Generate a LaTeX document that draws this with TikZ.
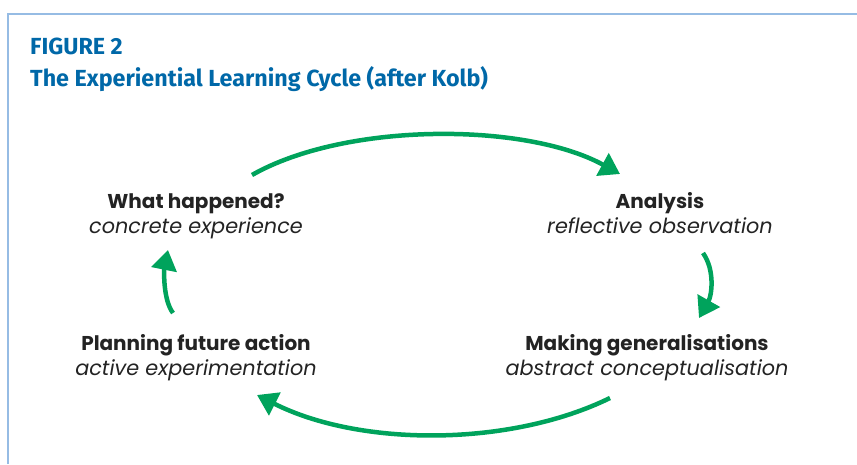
\documentclass[tikz,border=0pt]{standalone}
\usepackage{fontspec}
\setmainfont{Poppins}
\newfontfamily\titlefont{Fira Sans}
\usetikzlibrary{arrows.meta}
\definecolor{cyclegreen}{RGB}{0,163,92}
\definecolor{titleblue}{RGB}{0,104,168}
\definecolor{framblue}{RGB}{150,188,228}
\definecolor{labelgray}{RGB}{35,35,35}
\begin{document}
\begin{tikzpicture}[x=1pt,y=-1pt,
  stagehead/.style={anchor=base,text=labelgray,inner sep=0pt,font=\bfseries\fontsize{20}{24}\selectfont},
  stagesub/.style={anchor=base,text=labelgray,inner sep=0pt,font=\itshape\fontsize{20.8}{25}\selectfont},
  cyc/.style={draw=cyclegreen,line width=4.5pt,-{Triangle[length=20pt,width=25pt]}},
  ttl/.style={anchor=base west,text=titleblue,inner sep=0pt,font=\titlefont\bfseries\fontsize{23.3}{28}\selectfont}]
\useasboundingbox (0,0) rectangle (857,464);
\draw[framblue,line width=1.5pt] (8,464) -- (8,14) -- (857,14);
\node[ttl] (fig) at (30,54) {FIGURE 2};
\node[ttl] (ttl) at (30,86) {The Experiential Learning Cycle (after Kolb)};
\node[stagehead] (A) at (196,208) {What happened?};
\node[stagesub] (A2) at (196,233) {concrete experience};
\node[stagehead] (B) at (660,208) {Analysis};
\node[stagesub] (B2) at (660,233) {reflective observation};
\node[stagehead] (C) at (647,350) {Making generalisations};
\node[stagesub] (C2) at (647,375) {abstract conceptualisation};
\node[stagehead] (D) at (196,350) {Planning future action};
\node[stagesub] (D2) at (196,375) {active experimentation};
\coordinate (ab1) at (252,175);
\coordinate (ab2) at (620,174);
\coordinate (bc1) at (703,253);
\coordinate (bc2) at (699,318);
\coordinate (cd1) at (610,398);
\coordinate (cd2) at (257,395);
\coordinate (da1) at (173,313);
\coordinate (da2) at (168,250);
\draw[cyc] (ab1) .. controls (345,122) and (525,122) .. (ab2);
\draw[cyc] (bc1) .. controls (715,270) and (712,295) .. (bc2);
\draw[cyc] (cd1) .. controls (510,447) and (360,447) .. (cd2);
\draw[cyc] (da1) .. controls (163,300) and (164,270) .. (da2);
\end{tikzpicture}
\end{document}
